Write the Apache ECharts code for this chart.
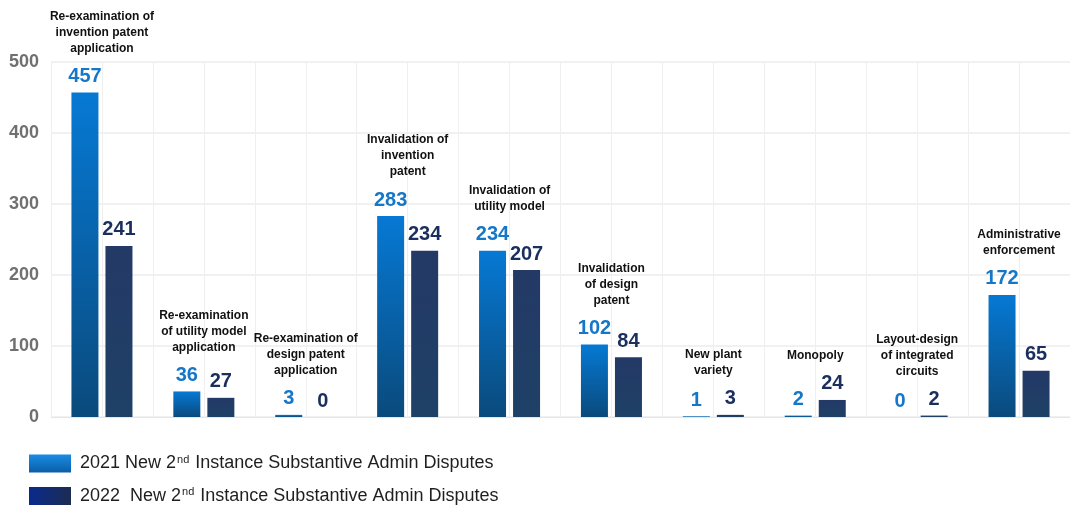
<!DOCTYPE html>
<html>
<head>
<meta charset="utf-8">
<script src="https://cdn.jsdelivr.net/npm/echarts@6/dist/echarts.min.js"></script>
<style>
  html, body { margin: 0; padding: 0; background: #fff; }
  #chart { width: 1070px; height: 510px; }
</style>
</head>
<body>
<div id="chart"></div>
<script>
const categories = [
  'Re-examination of\ninvention patent\napplication',
  'Re-examination\nof utility model\napplication',
  'Re-examination of\ndesign patent\napplication',
  'Invalidation of\ninvention\npatent',
  'Invalidation of\nutility model',
  'Invalidation\nof design\npatent',
  'New plant\nvariety',
  'Monopoly',
  'Layout-design\nof integrated\ncircuits',
  'Administrative\nenforcement'
]
const values2021 = [457, 36, 3, 283, 234, 102, 1, 2, 0, 172]
const values2022 = [241, 27, 0, 234, 207, 84, 3, 24, 2, 65]
const seriesNames = [
  '2021 New 2nd Instance Substantive Admin Disputes',
  '2022  New 2nd Instance Substantive Admin Disputes'
]
const yTicks = [0, 100, 200, 300, 400, 500]
// half-category slots, only used for the vertical grid lines
const gridSlots = Array.from({ length: categories.length * 2 }, () => '')

const NAVY = '#1b2f5e'
const TEXT = '#111'
const FONT = 'Liberation Sans, Arial, sans-serif'

const chart = echarts.init(document.getElementById('chart'), null, { renderer: 'canvas' })

function vGrad(top, bottom) {
  return new echarts.graphic.LinearGradient(0, 0, 0, 1, [
    { offset: 0, color: top },
    { offset: 1, color: bottom }
  ])
}
function hGrad(left, right) {
  return new echarts.graphic.LinearGradient(0, 0, 1, 0, [
    { offset: 0, color: left },
    { offset: 1, color: right }
  ])
}

// legend text with superscript "nd"
function legendFormatter(name) {
  const parts = name.split('2nd')
  return '{t|' + parts[0] + '2}{sup|nd}{t|' + parts[1] + '}'
}

const catMax = values2021.map((v, i) => [i, Math.max(v, values2022[i])])

chart.setOption({
  animation: false,
  backgroundColor: '#fff',
  grid: { left: 51, right: 0, top: 62, bottom: 93 },
  legend: {
    orient: 'vertical',
    left: 29,
    top: 454,
    padding: 0,
    itemWidth: 42,
    itemHeight: 18,
    itemGap: 14,
    icon: 'rect',
    selectedMode: false,
    formatter: legendFormatter,
    textStyle: {
      padding: [0, 0, 0, 4],
      rich: {
        t: { fontFamily: FONT, fontSize: 18, color: '#1f1f1f' },
        sup: { fontFamily: FONT, fontSize: 11, color: '#1f1f1f', verticalAlign: 'top', padding: [0, 1, 8, 1] }
      }
    },
    data: [
      { name: seriesNames[0], itemStyle: { color: vGrad('#1a8ce2', '#0a5ea8') } },
      { name: seriesNames[1], itemStyle: { color: hGrad('#0a2a8c', '#1c2c52') } }
    ]
  },
  xAxis: [
    {
      type: 'category',
      data: categories,
      axisLine: { show: true, lineStyle: { color: '#e6e6e6', width: 1 } },
      axisTick: { show: false },
      axisLabel: { show: false },
      splitLine: { show: false }
    },
    {
      type: 'category',
      data: gridSlots,
      position: 'bottom',
      axisLine: { show: false },
      axisTick: { show: false },
      axisLabel: { show: false },
      splitLine: { show: true, interval: 0, lineStyle: { color: '#efefef', width: 1 } }
    }
  ],
  yAxis: {
    type: 'value',
    min: yTicks[0],
    max: yTicks[yTicks.length - 1],
    interval: 100,
    axisLine: { show: false },
    axisTick: { show: false },
    axisLabel: {
      color: '#707070',
      fontFamily: FONT,
      fontWeight: 'bold',
      fontSize: 18,
      margin: 12
    },
    splitLine: { lineStyle: { color: '#ececec', width: 1.5 } }
  },
  series: [
    {
      name: seriesNames[0],
      type: 'bar',
      data: values2021,
      barWidth: 27,
      barGap: '26%',
      itemStyle: { color: vGrad('#0679d4', '#0a4a7c') },
      label: {
        show: true,
        position: 'top',
        distance: 6,
        color: '#1677c9',
        fontFamily: FONT,
        fontWeight: 'bold',
        fontSize: 20
      }
    },
    {
      name: seriesNames[1],
      type: 'bar',
      data: values2022,
      barWidth: 27,
      itemStyle: { color: vGrad('#243966', '#1e4166') },
      label: {
        show: true,
        position: 'top',
        distance: 6,
        color: NAVY,
        fontFamily: FONT,
        fontWeight: 'bold',
        fontSize: 20
      }
    },
    {
      // category names above each pair of bars
      type: 'custom',
      data: catMax,
      z: 5,
      silent: true,
      renderItem: (params, api) => {
        const p = api.coord([api.value(0), api.value(1)])
        return {
          type: 'text',
          x: p[0],
          y: p[1] - 36,
          style: {
            text: categories[params.dataIndex],
            align: 'center',
            verticalAlign: 'bottom',
            fill: TEXT,
            font: 'bold 12px "Liberation Sans", Arial, sans-serif',
            lineHeight: 16
          }
        }
      }
    }
  ]
})
</script>
</body>
</html>
